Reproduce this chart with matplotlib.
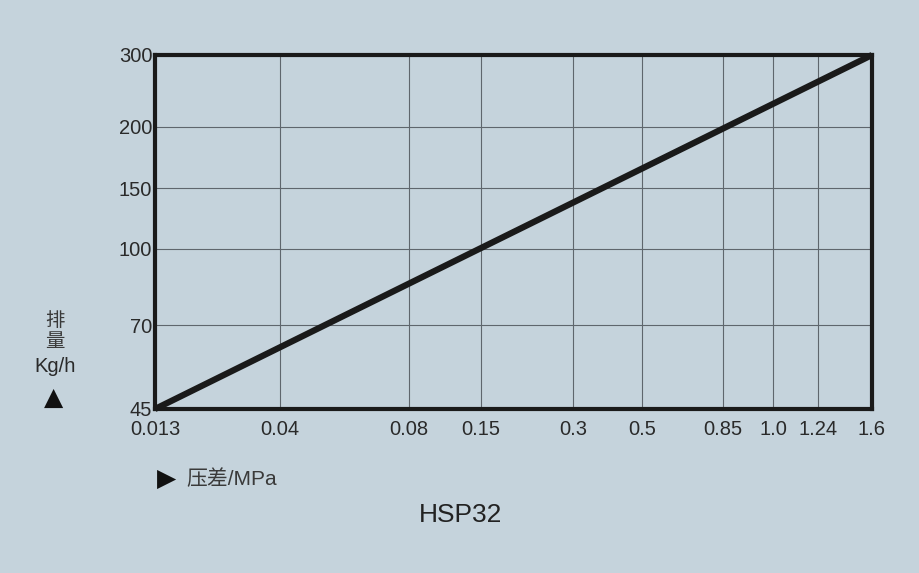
import numpy as np
import matplotlib
matplotlib.use('Agg')
import matplotlib.pyplot as plt

plt.rcParams['font.family'] = ['Liberation Sans', 'Noto Sans CJK SC', 'DejaVu Sans']

# chart data
x_ticks = [0.013, 0.04, 0.08, 0.15, 0.3, 0.5, 0.85, 1.0, 1.24, 1.6]
x_labels = ['0.013', '0.04', '0.08', '0.15', '0.3', '0.5', '0.85', '1.0', '1.24', '1.6']
y_ticks = [45, 70, 100, 150, 200, 300]
y_labels = ['45', '70', '100', '150', '200', '300']
pressure = [0.013, 1.6]
flow = [45, 300]

# where each tick sits along the axis (fraction of axis length)
x_frac = [0.0, 0.174, 0.354, 0.455, 0.583, 0.679, 0.792, 0.862, 0.925, 1.0]
y_frac = [0.0, 0.237, 0.452, 0.624, 0.797, 1.0]


def make_scale(ticks, frac):
    lt = np.log10(ticks)

    def fwd(v):
        v = np.asarray(v, dtype=float)
        return np.interp(np.log10(np.clip(v, 1e-9, None)), lt, frac)

    def inv(f):
        return 10 ** np.interp(np.asarray(f, dtype=float), frac, lt)
    return fwd, inv


bg = '#c5d3dc'
fig = plt.figure(figsize=(9.2, 5.73), dpi=100, facecolor=bg)
ax = fig.add_axes([155 / 920, 1 - 409 / 573, 717 / 920, 354 / 573])
ax.set_facecolor(bg)

ax.set_xscale('function', functions=make_scale(x_ticks, x_frac))
ax.set_yscale('function', functions=make_scale(y_ticks, y_frac))
ax.set_xlim(x_ticks[0], x_ticks[-1])
ax.set_ylim(y_ticks[0], y_ticks[-1])

ax.set_xticks(x_ticks)
ax.set_xticklabels(x_labels)
ax.set_yticks(y_ticks)
ax.set_yticklabels(y_labels)
ax.minorticks_off()
ax.tick_params(length=0, labelsize=14.5, colors='#2a2a2a')
ax.tick_params(axis='x', pad=8)
ax.tick_params(axis='y', pad=2)

ax.grid(True, color='#5f666d', linewidth=0.8)
for s in ax.spines.values():
    s.set_linewidth(3)
    s.set_color('#1a1a1a')

ax.plot(pressure, flow, color='#1a1a1a', linewidth=4.5, solid_capstyle='butt', clip_on=False)

# y axis caption
fig.text(55 / 920, 1 - 320 / 573, '排', ha='center', va='center', fontsize=14,
         family=['Noto Sans CJK SC'], color='#3a3a3a')
fig.text(55 / 920, 1 - 342 / 573, '量', ha='center', va='center', fontsize=14,
         family=['Noto Sans CJK SC'], color='#3a3a3a')
fig.text(55 / 920, 1 - 367 / 573, 'Kg/h', ha='center', va='center', fontsize=14.5,
         color='#2a2a2a')
fig.text(54 / 920, 1 - 398 / 573, '▲', ha='center', va='center', fontsize=18,
         family=['DejaVu Sans'], color='#111111')

# x axis caption
fig.text(157 / 920, 1 - 479 / 573, '▶', ha='left', va='center', fontsize=18,
         family=['DejaVu Sans'], color='#111111')
fig.text(186 / 920, 1 - 479 / 573, '压差/MPa', ha='left', va='center', fontsize=15,
         family=['Liberation Sans', 'Noto Sans CJK SC'], color='#3a3a3a')

fig.text(461 / 920, 1 - 515 / 573, 'HSP32', ha='center', va='center', fontsize=19,
         color='#222222')

fig.savefig('out.png', dpi=100, facecolor=bg)
